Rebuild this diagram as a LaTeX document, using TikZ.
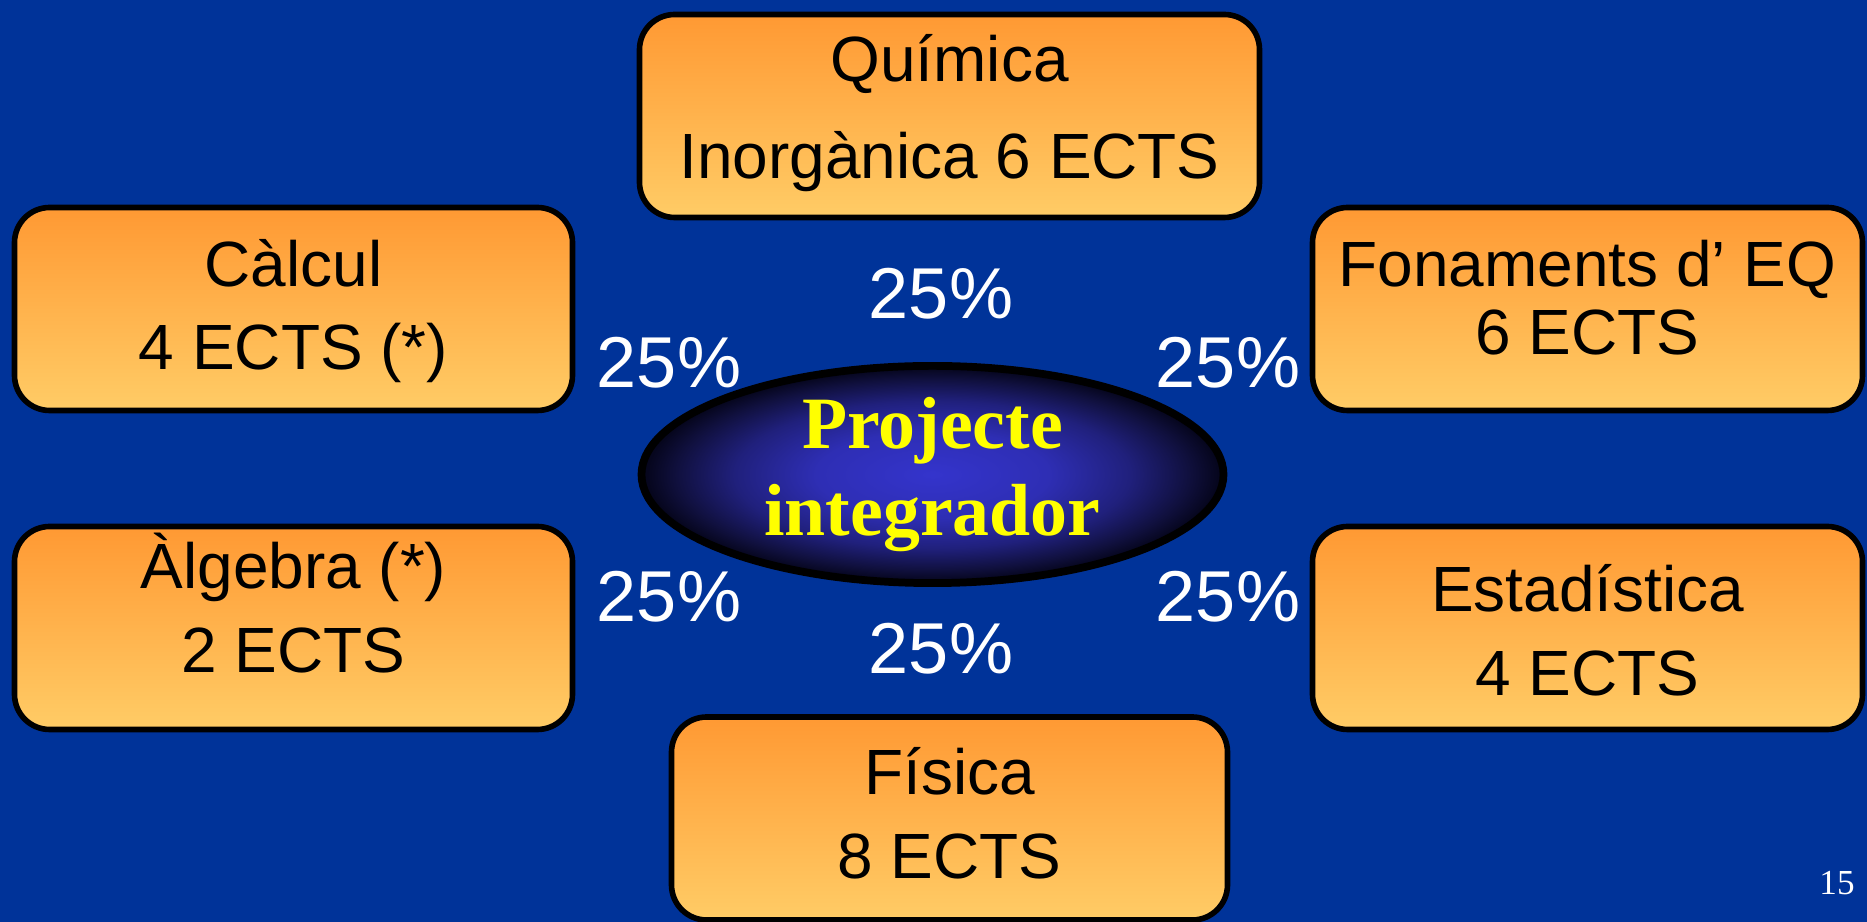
\documentclass[tikz,border=0pt]{standalone}
\usepackage{fontspec}
\setmainfont{Liberation Sans}
\newfontfamily\serifface{Liberation Serif}
\usepackage{tikz}
\usetikzlibrary{shapes.geometric,positioning,calc}
\definecolor{slideblue}{HTML}{003399}
\definecolor{boxtop}{HTML}{FF9933}
\definecolor{boxbottom}{HTML}{FFCC66}
\definecolor{titleyellow}{HTML}{FFFF00}
\pgfdeclareradialshading{ovalglow}{\pgfpoint{0cm}{0cm}}{%
    color(0bp)=(rgb,255:red,52;green,52;blue,204);
    color(10bp)=(rgb,255:red,46;green,46;blue,180);
    color(17bp)=(rgb,255:red,32;green,32;blue,124);
    color(22bp)=(rgb,255:red,16;green,16;blue,62);
    color(24.5bp)=(rgb,255:red,6;green,6;blue,30);
    color(26.5bp)=(rgb,255:red,0;green,0;blue,14);
    color(100bp)=(rgb,255:red,0;green,0;blue,14)}
\newcommand{\coursebox}[6]{%
    % #1=name, #2=x, #3=y, #4=width, #5=text y, #6=text
    \node[course, minimum width=#4cm] (#1) at (#2,#3) {};
    \node[coursetext] (#1-txt) at (#2,#5) {#6};
}

\begin{document}
\begin{tikzpicture}[
    course/.style={rectangle, draw=black, line width=1.6pt, rounded corners=10pt, top color=boxtop, bottom color=boxbottom, minimum height=2.03cm, inner sep=0pt},
    coursetext/.style={align=center, font=\fontsize{18.2}{23.8}\selectfont, inner sep=0pt},
    share/.style={text=white, font=\fontsize{20.5}{24}\selectfont, inner sep=0pt},
    core/.style={ellipse, draw=black, line width=2.2pt, shading=ovalglow, minimum width=5.82cm, minimum height=2.12cm, inner sep=0pt, align=center, text=titleyellow, font=\serifface\bfseries\fontsize{21}{24.5}\selectfont}
]
    \fill[slideblue] (0,0) rectangle (18.67,-9.22);
    \useasboundingbox (0,0) rectangle (18.67,-9.22);

    \node[core] (core) at (9.325,-4.745) {Projecte\\integrador};

    \coursebox{quim}{9.495}{-1.16}{6.20}{-1.13}{Química\\[3.8pt]Inorgànica 6 ECTS}
    \coursebox{calc}{2.935}{-3.09}{5.58}{-3.11}{Càlcul\\4 ECTS (*)}
    \coursebox{alg}{2.935}{-6.28}{5.58}{-6.03}{Àlgebra (*)\\2 ECTS}
    \coursebox{fon}{15.875}{-3.09}{5.50}{-2.98}{Fonaments d’ EQ\\[-4.5pt]6 ECTS}
    \coursebox{est}{15.875}{-6.28}{5.50}{-6.30}{Estadística\\4 ECTS}
    \coursebox{fis}{9.495}{-8.185}{5.56}{-8.13}{Física\\8 ECTS}

    \node[share] (pct-top) at (9.41,-2.94) {25\%};
    \node[share] (pct-calc) at (6.69,-3.63) {25\%};
    \node[share] (pct-fon) at (12.28,-3.63) {25\%};
    \node[share] (pct-alg) at (6.69,-5.97) {25\%};
    \node[share] (pct-est) at (12.28,-5.97) {25\%};
    \node[share] (pct-bot) at (9.41,-6.49) {25\%};

    \node[text=white, font=\serifface\fontsize{10}{12}\selectfont] (pageno) at (18.37,-8.83) {15};
\end{tikzpicture}
\end{document}
